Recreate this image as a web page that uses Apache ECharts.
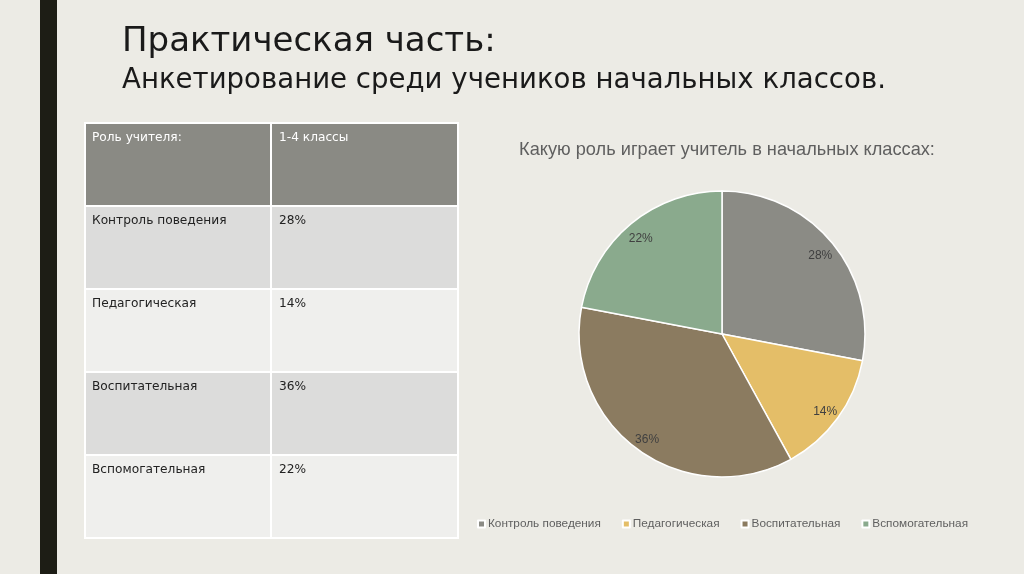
<!DOCTYPE html>
<html><head><meta charset="utf-8">
<script src="https://cdn.jsdelivr.net/npm/echarts@6/dist/echarts.min.js"></script>
<style>html,body{margin:0;padding:0;background:#ecebe5}#c{width:1024px;height:574px}</style>
</head><body><div id="c"></div>
<script>
const titleMain = 'Практическая часть:';
const titleSub = 'Анкетирование среди учеников начальных классов.';
const tableHeaders = ['Роль учителя:', '1-4 классы'];
const categories = ['Контроль поведения', 'Педагогическая', 'Воспитательная', 'Вспомогательная'];
const values = [28, 14, 36, 22];
const chartTitle = 'Какую роль играет учитель в начальных классах:';
const colors = ['#8b8b85', '#e4be68', '#8b7b60', '#8aaa8d'];

const chart = echarts.init(document.getElementById('c'), null, {renderer: 'canvas'});

// table geometry
const tX = 85, tCol = 271, tR = 458, tTop = 123, rowH = 83;
const g = [];
g.push({type: 'rect', shape: {x: 40, y: 0, width: 17, height: 574}, style: {fill: '#1d1d15'}});
g.push({type: 'text', left: 122, top: 25, style: {text: titleMain, fontSize: 34, fill: '#1a1a1a', fontFamily: 'DejaVu Sans', fontWeight: 'normal'}});
g.push({type: 'text', left: 122, top: 67, style: {text: titleSub, fontSize: 27.6, fill: '#1a1a1a', fontFamily: 'DejaVu Sans', fontWeight: 'normal'}});
const rows = [tableHeaders].concat(categories.map((c, i) => [c, values[i] + '%']));
rows.forEach((r, i) => {
  const y = tTop + i * rowH;
  const fill = i === 0 ? '#8a8a84' : (i % 2 === 1 ? '#dcdcdb' : '#efefed');
  g.push({type: 'rect', shape: {x: tX, y: y, width: tCol - tX, height: rowH}, style: {fill: fill, stroke: '#ffffff', lineWidth: 2}});
  g.push({type: 'rect', shape: {x: tCol, y: y, width: tR - tCol, height: rowH}, style: {fill: fill, stroke: '#ffffff', lineWidth: 2}});
  const tc = i === 0 ? '#ffffff' : '#222222';
  g.push({type: 'text', left: 92, top: y + 9, style: {text: r[0], fontSize: 12.2, fill: tc, fontFamily: 'DejaVu Sans'}});
  g.push({type: 'text', left: 279, top: y + 9, style: {text: r[1], fontSize: 12.2, fill: tc, fontFamily: 'DejaVu Sans'}});
});

const pieData = categories.map((c, i) => ({name: c, value: values[i], itemStyle: {color: colors[i]}}));

chart.setOption({
  backgroundColor: '#ecebe5',
  animation: false,
  title: {text: chartTitle, left: 722, top: 136, textAlign: 'center',
    textStyle: {fontSize: 18.2, fontWeight: 'normal', color: '#5f5f5f', fontFamily: 'Liberation Sans'}},
  legend: {bottom: 39, left: 472, itemWidth: 7, itemHeight: 7, itemGap: 21, icon: 'rect',
    textStyle: {fontSize: 11.8, color: '#5f5f5f', fontFamily: 'Liberation Sans', padding: [0, 0, 0, -2]},
    data: categories},
  graphic: g,
  series: [{
    type: 'pie', center: [722, 334], radius: [0, 143], startAngle: 90, clockwise: true,
    data: pieData, label: {show: false}, labelLine: {show: false},
    itemStyle: {borderColor: '#ffffff', borderWidth: 1.5}
  }, {
    type: 'pie', center: [722, 337], radius: [106, 143], startAngle: 90, clockwise: true, silent: true,
    data: categories.map((c, i) => ({name: c, value: values[i]})),
    itemStyle: {color: 'rgba(0,0,0,0)', borderWidth: 0},
    label: {show: true, position: 'inside', formatter: '{c}%', fontSize: 12, color: '#404040', fontFamily: 'Liberation Sans'},
    labelLine: {show: false}, emphasis: {disabled: true}
  }]
});
</script></body></html>
